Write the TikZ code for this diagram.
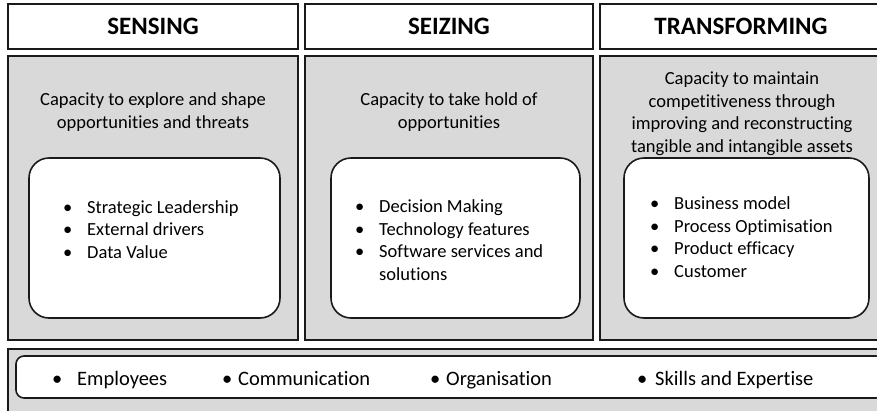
\documentclass[tikz,border=0pt]{standalone}
\usepackage{fontspec}
\setmainfont{Carlito}[Ligatures=NoCommon]
\usepackage{xcolor}
\usetikzlibrary{positioning}

\definecolor{panelgray}{HTML}{D9D9D9}
\definecolor{edgeblack}{HTML}{1A1A1A}

\tikzset{
  head/.style={draw=edgeblack, line width=1.8pt, fill=white, inner sep=0pt,
    font=\fontsize{25}{30}\selectfont\bfseries},
  panel/.style={draw=edgeblack, line width=1.6pt, fill=panelgray, inner sep=0pt},
  card/.style={draw=edgeblack, line width=1.6pt, fill=white, rounded corners=20pt, inner sep=0pt},
  desc/.style={align=center, inner sep=0pt, anchor=base, font=\fontsize{18.5}{22.5}\selectfont},
  items/.style={align=left, inner sep=0pt, anchor=base west, font=\fontsize{18.5}{22.5}\selectfont},
  basket/.style={inner sep=0pt, anchor=base west, font=\fontsize{20.5}{24}\selectfont}
}
\newcommand{\bul}{\makebox[24pt][l]{\textbullet}}

\begin{document}
\begin{tikzpicture}[x=1pt,y=-1pt]
  \useasboundingbox (0,0) rectangle (877,410);

  % headers
  \node[head, minimum width=290pt, minimum height=45pt] (senseHead) at (153,26.5) {SENSING};
  \node[head, minimum width=288pt, minimum height=45pt] (seizeHead) at (449,26.5) {SEIZING};
  \node[head, minimum width=282pt, minimum height=45pt] (transHead) at (741,26.5) {TRANSFORMING};

  % gray panels
  \node[panel, minimum width=290pt, minimum height=284pt] (sensePanel) at (153,198) {};
  \node[panel, minimum width=288pt, minimum height=284pt] (seizePanel) at (449,198) {};
  \node[panel, minimum width=282pt, minimum height=284pt] (transPanel) at (741,198) {};

  % descriptions (anchored on the last line)
  \node[desc] (senseDesc) at (153,128) {Capacity to explore and shape\\opportunities and threats};
  \node[desc] (seizeDesc) at (449,128) {Capacity to take hold of\\opportunities};
  \node[desc] (transDesc) at (742,152) {Capacity to maintain\\competitiveness through\\improving and reconstructing\\tangible and intangible assets};

  % white cards
  \node[card, minimum width=251pt, minimum height=160pt] (senseCard) at (154.5,238) {};
  \node[card, minimum width=249pt, minimum height=160pt] (seizeCard) at (455.5,238) {};
  \node[card, minimum width=245pt, minimum height=160pt] (transCard) at (746.5,238) {};

  \node[items] (senseItems) at (63,258) {\bul Strategic Leadership\\\bul External drivers\\\bul Data Value};
  \node[items] (seizeItems) at (355,280) {\bul Decision Making\\\bul Technology features\\\bul Software services and\\\hspace*{24pt}solutions};
  \node[items] (transItems) at (650,277) {\bul Business model\\\bul Process Optimisation\\\bul Product efficacy\\\bul Customer};

  % bottom strip
  \node[panel, minimum width=876pt, minimum height=66pt] (basePanel) at (446,382) {};
  \node[card, rounded corners=8pt, minimum width=868pt, minimum height=42pt] (baseCard) at (450,377) {};
  \node[basket] (employees) at (52,385) {\makebox[25pt][l]{\textbullet}Employees};
  \node[basket] (communication) at (222,385) {\makebox[16pt][l]{\textbullet}Communication};
  \node[basket] (organisation) at (430,385) {\makebox[16pt][l]{\textbullet}Organisation};
  \node[basket] (skills) at (637,385) {\makebox[18pt][l]{\textbullet}Skills\ and Expertise};
\end{tikzpicture}
\end{document}
